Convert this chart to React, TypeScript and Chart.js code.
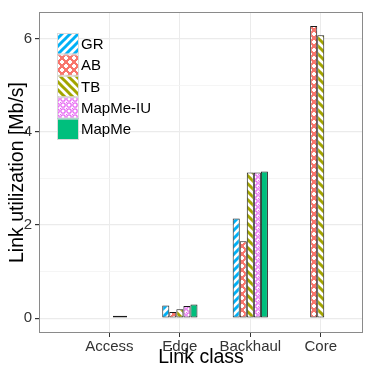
import React, { useEffect, useRef } from "react";
import { Chart, registerables } from "chart.js";

Chart.register(...registerables);

const categories = ["Access", "Edge", "Backhaul", "Core"];
const seriesNames = ["GR", "AB", "TB", "MapMe-IU", "MapMe"];
const GR = [null, 0.27, 2.14, null];
const AB = [null, 0.13, 1.65, 6.28];
const TB = [null, 0.19, 3.13, 6.08];
const MapMeIU = [0.05, 0.26, 3.13, null];
const MapMe = [0.05, 0.29, 3.15, null];
const yTicks = [0, 1, 2, 3, 4, 5, 6];

const FONT = "'Liberation Sans', Arial, sans-serif";

function makeTile(size: number, draw: (c: CanvasRenderingContext2D, s: number) => void) {
  const cv = document.createElement("canvas");
  cv.width = size;
  cv.height = size;
  const c = cv.getContext("2d")!;
  draw(c, size);
  return c.createPattern(cv, "repeat")!;
}

function stripes(color: string, dir: 1 | -1) {
  return makeTile(8, (c, s) => {
    c.fillStyle = "#ffffff";
    c.fillRect(0, 0, s, s);
    c.strokeStyle = color;
    c.lineWidth = 3;
    c.lineCap = "square";
    const seg = (x1: number, y1: number, x2: number, y2: number) => {
      c.beginPath();
      c.moveTo(x1, y1);
      c.lineTo(x2, y2);
      c.stroke();
    };
    if (dir === 1) {
      seg(0, s, s, 0);
      seg(-s, s, s, -s);
      seg(0, 2 * s, 2 * s, 0);
    } else {
      seg(0, 0, s, s);
      seg(-s, 0, s, 2 * s);
      seg(0, -s, 2 * s, s);
    }
  });
}

function dotsPattern(bg: string) {
  return makeTile(8, (c, s) => {
    c.fillStyle = bg;
    c.fillRect(0, 0, s, s);
    c.fillStyle = "#ffffff";
    const cross = (x: number, y: number) => {
      c.fillRect(x - 1, y - 2, 2, 4);
      c.fillRect(x - 2, y - 1, 4, 2);
    };
    cross(2, 2);
    cross(6, 6);
  });
}

function circlesPattern(color: string) {
  return makeTile(6, (c, s) => {
    c.fillStyle = "#ffffff";
    c.fillRect(0, 0, s, s);
    c.strokeStyle = color;
    c.lineWidth = 1.3;
    c.beginPath();
    c.arc(s / 2, s / 2, 2.2, 0, Math.PI * 2);
    c.stroke();
    c.fillStyle = color;
    c.fillRect(0, 0, 1, 1);
  });
}

export default function App() {
  const ref = useRef<HTMLCanvasElement | null>(null);

  useEffect(() => {
    document.body.style.margin = "0";
    const canvas = ref.current!;
    const fills = [
      stripes("#00B0F6", 1),
      dotsPattern("#F8766D"),
      stripes("#A3A500", -1),
      circlesPattern("#E76BF3"),
      "#00BF7D",
    ];
    const values = [GR, AB, TB, MapMeIU, MapMe];

    const datasets = seriesNames.map((name, i) => ({
      label: name,
      data: categories
        .map((_, j) => ({ x: j + 1, y: values[i][j] }))
        .filter((p) => p.y !== null),
      backgroundColor: fills[i] as any,
      borderColor: "#1a1a1a",
      borderWidth: 1,
      borderSkipped: false as any,
      categoryPercentage: 0.5,
      barPercentage: 1,
    }));

    const panelPlugin = {
      id: "panel",
      afterDraw(chart: any) {
        const { ctx, chartArea: a } = chart;
        ctx.save();
        ctx.strokeStyle = "#8a8a8a";
        ctx.lineWidth = 1;
        ctx.strokeRect(a.left + 0.5, a.top + 0.5, a.right - a.left - 1, a.bottom - a.top - 1);
        // legend
        const kx = 57, ky = 33, kw = 22, kh = 21.4;
        ctx.font = `15px ${FONT}`;
        ctx.textBaseline = "middle";
        ctx.textAlign = "left";
        seriesNames.forEach((name, i) => {
          const y = ky + i * kh;
          ctx.fillStyle = "#ffffff";
          ctx.fillRect(kx, y, kw, kh);
          ctx.fillStyle = fills[i] as any;
          ctx.fillRect(kx, y, kw, kh);
          ctx.strokeStyle = "#d9d9d9";
          ctx.lineWidth = 1;
          ctx.strokeRect(kx + 0.5, y + 0.5, kw - 1, kh - 1);
          ctx.fillStyle = "#000000";
          ctx.fillText(name, kx + 24, y + kh / 2 + 1);
        });
        ctx.restore();
      },
    };

    const chart = new Chart(canvas, {
      type: "bar",
      data: { datasets: datasets as any },
      options: {
        animation: false,
        responsive: false,
        maintainAspectRatio: false,
        layout: { padding: { top: 11, right: 11, left: 0, bottom: 0 } },
        plugins: { legend: { display: false }, tooltip: { enabled: false } },
        scales: {
          x: {
            type: "linear",
            min: 0,
            max: 4.6,
            offset: false,
            afterBuildTicks: (s: any) => {
              s.ticks = categories.map((_, i) => ({ value: i + 1 }));
            },
            afterFit: (s: any) => {
              s.height = 41;
            },
            ticks: {
              callback: (v: any) => categories[Math.round(Number(v)) - 1] ?? "",
              font: { family: FONT, size: 15 },
              color: "#333333",
              padding: 1,
              maxRotation: 0,
              autoSkip: false,
            },
            grid: {
              offset: false,
              color: "#EBEBEB",
              lineWidth: 1,
              tickLength: 4,
              tickColor: "#333333",
            },
            border: { display: false },
            title: {
              display: true,
              text: "Link class",
              font: { family: FONT, size: 19.5 },
              color: "#000000",
              padding: { top: 0, bottom: 5 },
            },
          },
          y: {
            type: "linear",
            min: -0.32,
            max: 6.58,
            afterBuildTicks: (s: any) => {
              s.ticks = yTicks.map((v) => ({ value: v }));
            },
            afterFit: (s: any) => {
              s.width = 39;
            },
            ticks: {
              callback: (v: any) => (Number(v) % 2 === 0 ? String(v) : ""),
              font: { family: FONT, size: 15 },
              color: "#333333",
              padding: 3,
            },
            grid: {
              color: (c: any) => (c.tick && c.tick.value % 2 === 0 ? "#EBEBEB" : "#F3F3F3"),
              lineWidth: (c: any) => (c.tick && c.tick.value % 2 === 0 ? 1.2 : 0.8),
              tickLength: 4,
              tickColor: (c: any) => (c.tick && c.tick.value % 2 === 0 ? "#333333" : "rgba(0,0,0,0)"),
            },
            border: { display: false },
            title: {
              display: true,
              text: "Link utilization [Mb/s]",
              font: { family: FONT, size: 19.5 },
              color: "#000000",
              padding: { top: 6, bottom: 0 },
            },
          },
        },
      },
      plugins: [panelPlugin],
    });
    return () => chart.destroy();
  }, []);

  return (
    <div style={{ width: 374, height: 374 }}>
      <canvas ref={ref} width={374} height={374} style={{ display: "block" }} />
    </div>
  );
}
